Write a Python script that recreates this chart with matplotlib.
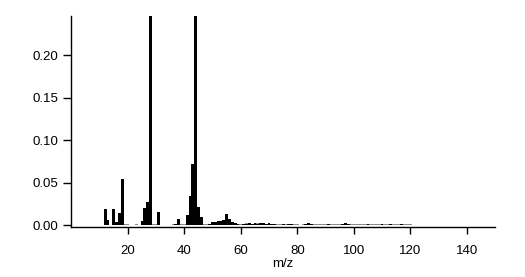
import numpy as np
import matplotlib.pyplot as plt

plt.rcParams['font.family'] = ['Liberation Sans', 'DejaVu Sans']

# black (signal) bars: m/z and relative intensity
mz_black = [12, 13, 15, 16, 17, 18, 24, 25, 26, 27, 28, 31, 37, 38, 41, 42, 43, 44, 45, 46,
            49, 50, 51, 52, 53, 54, 55, 56, 57, 58, 59, 61, 62, 63, 64, 65, 66, 67, 68, 69,
            70, 71, 72, 75, 77, 78, 83, 84, 85, 91, 96, 97, 98, 105, 110, 113, 117]
int_black = [0.019, 0.006, 0.019, 0.004, 0.015, 0.055, 0.001, 0.005, 0.020, 0.028, 0.30, 0.016,
             0.002, 0.0075, 0.0125, 0.034, 0.072, 0.30, 0.022, 0.0098,
             0.002, 0.004, 0.004, 0.005, 0.005, 0.006, 0.013, 0.007, 0.004, 0.003, 0.002,
             0.002, 0.002, 0.003, 0.002, 0.003, 0.002, 0.003, 0.003, 0.002,
             0.003, 0.002, 0.002, 0.002, 0.0015, 0.002, 0.002, 0.003, 0.002, 0.002, 0.002,
             0.003, 0.0015, 0.0015, 0.0015, 0.0015, 0.0015]

# grey (background) bars
mz_grey = [19, 20, 23, 29, 30, 36, 39, 40, 47, 48, 49, 58, 59, 60, 61, 62, 63, 64, 65, 66,
           67, 68, 69, 70, 71, 72, 73, 74, 75, 76, 77, 78, 79, 80, 81, 82, 83, 84, 85, 86,
           87, 88, 89, 90, 91, 92, 93, 94, 95, 96, 97, 98, 99, 100, 101, 102, 103, 104, 105,
           106, 107, 108, 109, 110, 111, 112, 113, 114, 115, 116, 117, 118, 119, 120]
int_grey = [0.0015, 0.0015, 0.0012, 0.0015, 0.0015, 0.0012, 0.0015, 0.0015, 0.0015, 0.002, 0.002,
            0.0025, 0.002, 0.0015, 0.002, 0.0025, 0.0025, 0.002, 0.0025, 0.0025,
            0.002, 0.0025, 0.002, 0.0025, 0.002, 0.002, 0.0015, 0.0015, 0.002, 0.0015,
            0.0015, 0.002, 0.0015, 0.0015, 0.001, 0.0015, 0.002, 0.002, 0.002, 0.0015,
            0.0015, 0.0015, 0.0012, 0.0012, 0.002, 0.0015, 0.0012, 0.0012, 0.0015, 0.002,
            0.002, 0.0015, 0.0015, 0.0012, 0.0015, 0.0015, 0.0015, 0.0015, 0.0015,
            0.002, 0.002, 0.002, 0.002, 0.002, 0.002, 0.0015, 0.0015, 0.0015, 0.0015,
            0.0015, 0.0015, 0.0015, 0.0012, 0.0012]

fig = plt.figure(figsize=(5.25, 2.77), dpi=100)
ax = fig.add_axes([0.1347, 0.1805, 0.943 - 0.1347, 0.942 - 0.1805])

ax.bar(mz_grey, int_grey, width=1.0, color='#8c8c8c', linewidth=0)
ax.bar(mz_black, int_black, width=1.0, color='black', linewidth=0)

ax.set_xlim(-0.2, 150)
ax.set_ylim(-0.0019, 0.2458)
ax.set_xticks([20, 40, 60, 80, 100, 120, 140])
ax.set_yticks([0.0, 0.05, 0.10, 0.15, 0.20])
ax.set_yticklabels(['0.00', '0.05', '0.10', '0.15', '0.20'])

for s in ['top', 'right']:
    ax.spines[s].set_visible(False)
for s in ['left', 'bottom']:
    ax.spines[s].set_linewidth(1.0)

ax.tick_params(axis='y', direction='out', length=6, width=1, pad=3, labelsize=9.5)
ax.tick_params(axis='x', direction='out', length=5, width=1, pad=8, labelsize=9.5)
ax.set_xlabel('m/z', fontsize=9.5, labelpad=1)

plt.savefig('out.png', dpi=100)
